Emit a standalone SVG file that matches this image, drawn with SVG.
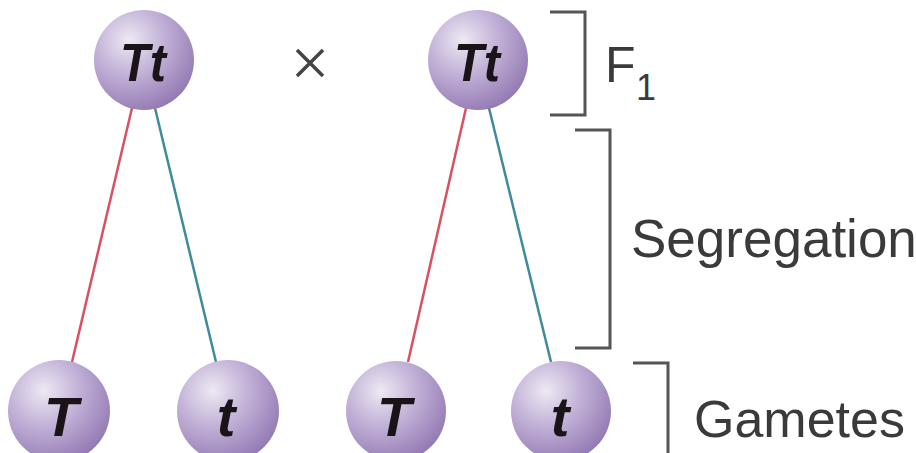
<svg xmlns="http://www.w3.org/2000/svg" width="916" height="453" viewBox="0 0 916 453">
<defs>
<radialGradient id="ball" cx="0.35" cy="0.3" r="0.75">
<stop offset="0" stop-color="#eee9f3"/>
<stop offset="0.45" stop-color="#c3b3d8"/>
<stop offset="1" stop-color="#9379b3"/>
</radialGradient>
</defs>
<style>
.ball{fill:url(#ball);}
.gt{font-family:"Liberation Sans",Arial,sans-serif;font-weight:bold;font-style:italic;fill:#1a1418;text-anchor:middle;}
.lbl{font-family:"Liberation Sans",Arial,sans-serif;fill:#3a3a3a;}
.br{fill:none;stroke:#555;stroke-width:3;}
.red{stroke:#d9505e;stroke-width:2.5;}
.blue{stroke:#3f8a9c;stroke-width:2.5;}
</style>
<rect width="916" height="453" fill="#fff"/>
<g id="connectors">
<line class="red" x1="132" y1="108" x2="72" y2="362"/>
<line class="blue" x1="155" y1="108" x2="216" y2="362"/>
<line class="red" x1="466" y1="108" x2="408" y2="362"/>
<line class="blue" x1="489" y1="108" x2="551" y2="362"/>
</g>
<g id="p1"><circle class="ball" cx="144" cy="60" r="50"/><text class="gt" x="143" y="81" font-size="53" textLength="46" lengthAdjust="spacingAndGlyphs">Tt</text></g>
<g id="p2"><circle class="ball" cx="478" cy="60" r="50"/><text class="gt" x="477" y="81" font-size="53" textLength="46" lengthAdjust="spacingAndGlyphs">Tt</text></g>
<g id="g1"><circle class="ball" cx="59" cy="411" r="51"/><text class="gt" x="61" y="436" font-size="56">T</text></g>
<g id="g2"><circle class="ball" cx="228" cy="411" r="51"/><text class="gt" x="226" y="436" font-size="56">t</text></g>
<g id="g3"><circle class="ball" cx="396" cy="411" r="50"/><text class="gt" x="394" y="436" font-size="56">T</text></g>
<g id="g4"><circle class="ball" cx="561" cy="411" r="50"/><text class="gt" x="560" y="436" font-size="56">t</text></g>
<g id="cross"><path d="M297 50 L323 76 M323 50 L297 76" stroke="#444" stroke-width="3.5"/></g>
<g id="f1">
<path class="br" d="M550 12 H585 V115 H550"/>
<text class="lbl" x="605" y="82" font-size="50">F</text>
<text class="lbl" x="636" y="100" font-size="36">1</text>
</g>
<g id="seg">
<path class="br" d="M575 130 H610 V348 H575"/>
<text class="lbl" x="631" y="257" font-size="53">Segregation</text>
</g>
<g id="gam">
<path class="br" d="M633 363 H668 V453"/>
<text class="lbl" x="694" y="437" font-size="52">Gametes</text>
</g>
</svg>
